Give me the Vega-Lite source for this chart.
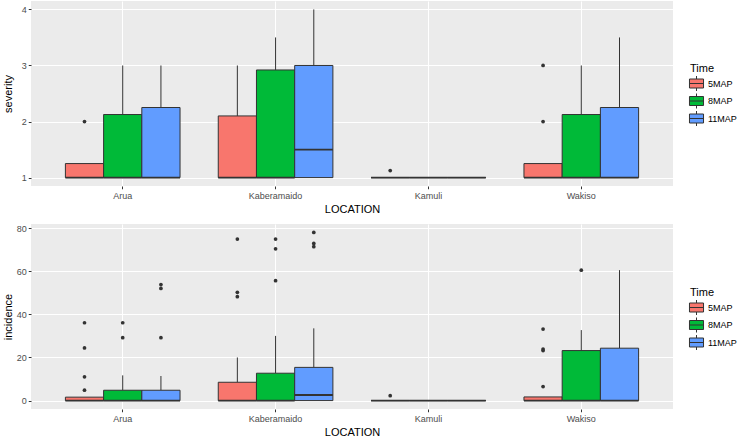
{
  "$schema": "https://vega.github.io/schema/vega-lite/v6.json",
  "padding": {"left": 2, "top": 1, "right": 0, "bottom": 0},
  "background": "white",
  "spacing": 9,
  "datasets": {
    "sevBox": [
      {"LOCATION": "Arua", "Time": "5MAP", "q1": 1, "med": 1, "q3": 1.25, "hi": 1.25},
      {"LOCATION": "Arua", "Time": "8MAP", "q1": 1, "med": 1, "q3": 2.125, "hi": 3},
      {"LOCATION": "Arua", "Time": "11MAP", "q1": 1, "med": 1, "q3": 2.25, "hi": 3},
      {"LOCATION": "Kaberamaido", "Time": "5MAP", "q1": 1, "med": 1, "q3": 2.1, "hi": 3},
      {"LOCATION": "Kaberamaido", "Time": "8MAP", "q1": 1, "med": 1, "q3": 2.92, "hi": 3.5},
      {"LOCATION": "Kaberamaido", "Time": "11MAP", "q1": 1, "med": 1.5, "q3": 3, "hi": 4},
      {"LOCATION": "Kamuli", "Time": "5MAP", "q1": 1, "med": 1, "q3": 1, "hi": 1},
      {"LOCATION": "Kamuli", "Time": "8MAP", "q1": 1, "med": 1, "q3": 1, "hi": 1},
      {"LOCATION": "Kamuli", "Time": "11MAP", "q1": 1, "med": 1, "q3": 1, "hi": 1},
      {"LOCATION": "Wakiso", "Time": "5MAP", "q1": 1, "med": 1, "q3": 1.25, "hi": 1.25},
      {"LOCATION": "Wakiso", "Time": "8MAP", "q1": 1, "med": 1, "q3": 2.125, "hi": 3},
      {"LOCATION": "Wakiso", "Time": "11MAP", "q1": 1, "med": 1, "q3": 2.25, "hi": 3.5}
    ],
    "sevOut": [
      {"LOCATION": "Arua", "Time": "5MAP", "value": 2},
      {"LOCATION": "Kamuli", "Time": "5MAP", "value": 1.125},
      {"LOCATION": "Wakiso", "Time": "5MAP", "value": 2},
      {"LOCATION": "Wakiso", "Time": "5MAP", "value": 3}
    ],
    "incBox": [
      {"LOCATION": "Arua", "Time": "5MAP", "q1": 0, "med": 0, "q3": 1.6, "hi": 1.6},
      {"LOCATION": "Arua", "Time": "8MAP", "q1": 0, "med": 0, "q3": 4.8, "hi": 11.7},
      {"LOCATION": "Arua", "Time": "11MAP", "q1": 0, "med": 0, "q3": 4.8, "hi": 11.4},
      {"LOCATION": "Kaberamaido", "Time": "5MAP", "q1": 0, "med": 0, "q3": 8.5, "hi": 20},
      {"LOCATION": "Kaberamaido", "Time": "8MAP", "q1": 0, "med": 0, "q3": 12.7, "hi": 30},
      {"LOCATION": "Kaberamaido", "Time": "11MAP", "q1": 0, "med": 2.6, "q3": 15.4, "hi": 33.5},
      {"LOCATION": "Kamuli", "Time": "5MAP", "q1": 0, "med": 0, "q3": 0, "hi": 0},
      {"LOCATION": "Kamuli", "Time": "8MAP", "q1": 0, "med": 0, "q3": 0, "hi": 0},
      {"LOCATION": "Kamuli", "Time": "11MAP", "q1": 0, "med": 0, "q3": 0, "hi": 0},
      {"LOCATION": "Wakiso", "Time": "5MAP", "q1": 0, "med": 0, "q3": 1.7, "hi": 1.7},
      {"LOCATION": "Wakiso", "Time": "8MAP", "q1": 0, "med": 0, "q3": 23.2, "hi": 32.7},
      {"LOCATION": "Wakiso", "Time": "11MAP", "q1": 0, "med": 0, "q3": 24.3, "hi": 60.5}
    ],
    "incOut": [
      {"LOCATION": "Arua", "Time": "5MAP", "value": 36.1},
      {"LOCATION": "Arua", "Time": "5MAP", "value": 24.4},
      {"LOCATION": "Arua", "Time": "5MAP", "value": 11},
      {"LOCATION": "Arua", "Time": "5MAP", "value": 4.8},
      {"LOCATION": "Arua", "Time": "8MAP", "value": 36.1},
      {"LOCATION": "Arua", "Time": "8MAP", "value": 29.2},
      {"LOCATION": "Arua", "Time": "11MAP", "value": 53.8},
      {"LOCATION": "Arua", "Time": "11MAP", "value": 52},
      {"LOCATION": "Arua", "Time": "11MAP", "value": 29.2},
      {"LOCATION": "Kaberamaido", "Time": "5MAP", "value": 74.9},
      {"LOCATION": "Kaberamaido", "Time": "5MAP", "value": 50.2},
      {"LOCATION": "Kaberamaido", "Time": "5MAP", "value": 48.2},
      {"LOCATION": "Kaberamaido", "Time": "8MAP", "value": 74.9},
      {"LOCATION": "Kaberamaido", "Time": "8MAP", "value": 70.4},
      {"LOCATION": "Kaberamaido", "Time": "8MAP", "value": 55.6},
      {"LOCATION": "Kaberamaido", "Time": "11MAP", "value": 78},
      {"LOCATION": "Kaberamaido", "Time": "11MAP", "value": 72.9},
      {"LOCATION": "Kaberamaido", "Time": "11MAP", "value": 71.4},
      {"LOCATION": "Kamuli", "Time": "5MAP", "value": 2.3},
      {"LOCATION": "Wakiso", "Time": "5MAP", "value": 33.2},
      {"LOCATION": "Wakiso", "Time": "5MAP", "value": 23.9},
      {"LOCATION": "Wakiso", "Time": "5MAP", "value": 23.2},
      {"LOCATION": "Wakiso", "Time": "5MAP", "value": 6.5},
      {"LOCATION": "Wakiso", "Time": "8MAP", "value": 60.5}
    ]
  },
  "resolve": {"scale": {"color": "independent", "y": "independent"}},
  "vconcat": [
    {
      "width": 642,
      "height": 185,
      "encoding": {
        "x": {"field": "LOCATION", "type": "nominal",
          "scale": {"domain": ["Arua", "Kaberamaido", "Kamuli", "Wakiso"], "paddingInner": 0, "paddingOuter": 0.1},
          "axis": {"title": "LOCATION", "labelAngle": 0, "grid": true, "gridWidth": 1.1, "bandPosition": 0.5, "labelPadding": 2.5, "titlePadding": 3}},
        "xOffset": {"field": "Time", "type": "nominal",
          "scale": {"domain": ["5MAP", "8MAP", "11MAP"], "paddingInner": 0, "paddingOuter": 0.5}}
      },
      "layer": [
        {
          "data": {"name": "sevBox"},
          "mark": {"type": "rule", "color": "#333333", "strokeWidth": 1},
          "encoding": {
            "y": {"field": "q3", "type": "quantitative", "title": "severity",
              "scale": {"domain": [0.85, 4.15], "nice": false, "zero": false},
              "axis": {"values": [1, 1.5, 2, 2.5, 3, 3.5, 4],
                "labelExpr": "datum.value % 1 === 0 ? format(datum.value, 'd') : ''",
                "grid": true,
                "gridWidth": {"condition": {"test": "datum.value % 1 !== 0", "value": 0.5}, "value": 1.1},
                "tickOpacity": {"condition": {"test": "datum.value % 1 !== 0", "value": 0}, "value": 1},
                "labelPadding": 2, "titlePadding": 8}},
            "y2": {"field": "hi"}
          }
        },
        {
          "data": {"name": "sevBox"},
          "mark": {"type": "bar", "stroke": "#333333", "strokeWidth": 1},
          "encoding": {
            "y": {"field": "q1", "type": "quantitative", "title": "severity"},
            "y2": {"field": "q3"},
            "color": {"field": "Time", "type": "nominal",
              "scale": {"domain": ["5MAP", "8MAP", "11MAP"], "range": ["#F8766D", "#00BA38", "#619CFF"]},
              "legend": {"title": "Time", "orient": "none", "legendX": 659, "legendY": 62,
                "symbolType": "M-1.17,-0.75H1.17V0.75H-1.17Z M-1.17,0H1.17 M0,-0.75V-1.25 M0,0.75V1.25",
                "symbolSize": 144, "symbolStrokeColor": "#333333", "symbolStrokeWidth": 1, "symbolOpacity": 1,
                "labelFontSize": 9, "labelColor": "#000000", "titleFontSize": 11, "titleFontWeight": "normal",
                "titleColor": "#000000", "titlePadding": 3, "rowPadding": -1.5, "labelOffset": 5}}
          }
        },
        {
          "data": {"name": "sevBox"},
          "mark": {"type": "bar", "fillOpacity": 0, "stroke": "#333333", "strokeWidth": 1.8},
          "encoding": {
            "y": {"field": "med", "type": "quantitative", "title": "severity"},
            "y2": {"field": "med"}
          }
        },
        {
          "data": {"name": "sevOut"},
          "mark": {"type": "point", "filled": true, "color": "#333333", "size": 14, "opacity": 1},
          "encoding": {
            "y": {"field": "value", "type": "quantitative", "title": "severity"}
          }
        }
      ]
    },
    {
      "width": 642,
      "height": 185,
      "encoding": {
        "x": {"field": "LOCATION", "type": "nominal",
          "scale": {"domain": ["Arua", "Kaberamaido", "Kamuli", "Wakiso"], "paddingInner": 0, "paddingOuter": 0.1},
          "axis": {"title": "LOCATION", "labelAngle": 0, "grid": true, "gridWidth": 1.1, "bandPosition": 0.5, "labelPadding": 2.5, "titlePadding": 3}},
        "xOffset": {"field": "Time", "type": "nominal",
          "scale": {"domain": ["5MAP", "8MAP", "11MAP"], "paddingInner": 0, "paddingOuter": 0.5}}
      },
      "layer": [
        {
          "data": {"name": "incBox"},
          "mark": {"type": "rule", "color": "#333333", "strokeWidth": 1},
          "encoding": {
            "y": {"field": "q3", "type": "quantitative", "title": "incidence",
              "scale": {"domain": [-3.9, 81.9], "nice": false, "zero": false},
              "axis": {"values": [0, 10, 20, 30, 40, 50, 60, 70, 80],
                "labelExpr": "datum.value % 20 === 0 ? datum.label : ''",
                "grid": true,
                "gridWidth": {"condition": {"test": "datum.value % 20 !== 0", "value": 0.5}, "value": 1.1},
                "tickOpacity": {"condition": {"test": "datum.value % 20 !== 0", "value": 0}, "value": 1},
                "labelPadding": 2, "titlePadding": 3}},
            "y2": {"field": "hi"}
          }
        },
        {
          "data": {"name": "incBox"},
          "mark": {"type": "bar", "stroke": "#333333", "strokeWidth": 1},
          "encoding": {
            "y": {"field": "q1", "type": "quantitative", "title": "incidence"},
            "y2": {"field": "q3"},
            "color": {"field": "Time", "type": "nominal",
              "scale": {"domain": ["5MAP", "8MAP", "11MAP"], "range": ["#F8766D", "#00BA38", "#619CFF"]},
              "legend": {"title": "Time", "orient": "none", "legendX": 659, "legendY": 63,
                "symbolType": "M-1.17,-0.75H1.17V0.75H-1.17Z M-1.17,0H1.17 M0,-0.75V-1.25 M0,0.75V1.25",
                "symbolSize": 144, "symbolStrokeColor": "#333333", "symbolStrokeWidth": 1, "symbolOpacity": 1,
                "labelFontSize": 9, "labelColor": "#000000", "titleFontSize": 11, "titleFontWeight": "normal",
                "titleColor": "#000000", "titlePadding": 3, "rowPadding": -1.5, "labelOffset": 5}}
          }
        },
        {
          "data": {"name": "incBox"},
          "mark": {"type": "bar", "fillOpacity": 0, "stroke": "#333333", "strokeWidth": 1.8},
          "encoding": {
            "y": {"field": "med", "type": "quantitative", "title": "incidence"},
            "y2": {"field": "med"}
          }
        },
        {
          "data": {"name": "incOut"},
          "mark": {"type": "point", "filled": true, "color": "#333333", "size": 14, "opacity": 1},
          "encoding": {
            "y": {"field": "value", "type": "quantitative", "title": "incidence"}
          }
        }
      ]
    }
  ],
  "config": {
    "font": "Liberation Sans",
    "view": {"fill": "#EBEBEB", "stroke": null},
    "axis": {"domain": false, "tickColor": "#333333", "tickSize": 2.75, "labelColor": "#4D4D4D",
      "labelFontSize": 9, "titleFontSize": 11, "titleFontWeight": "normal", "titleColor": "#000000",
      "gridColor": "#FFFFFF", "gridOpacity": 1}
  }
}
